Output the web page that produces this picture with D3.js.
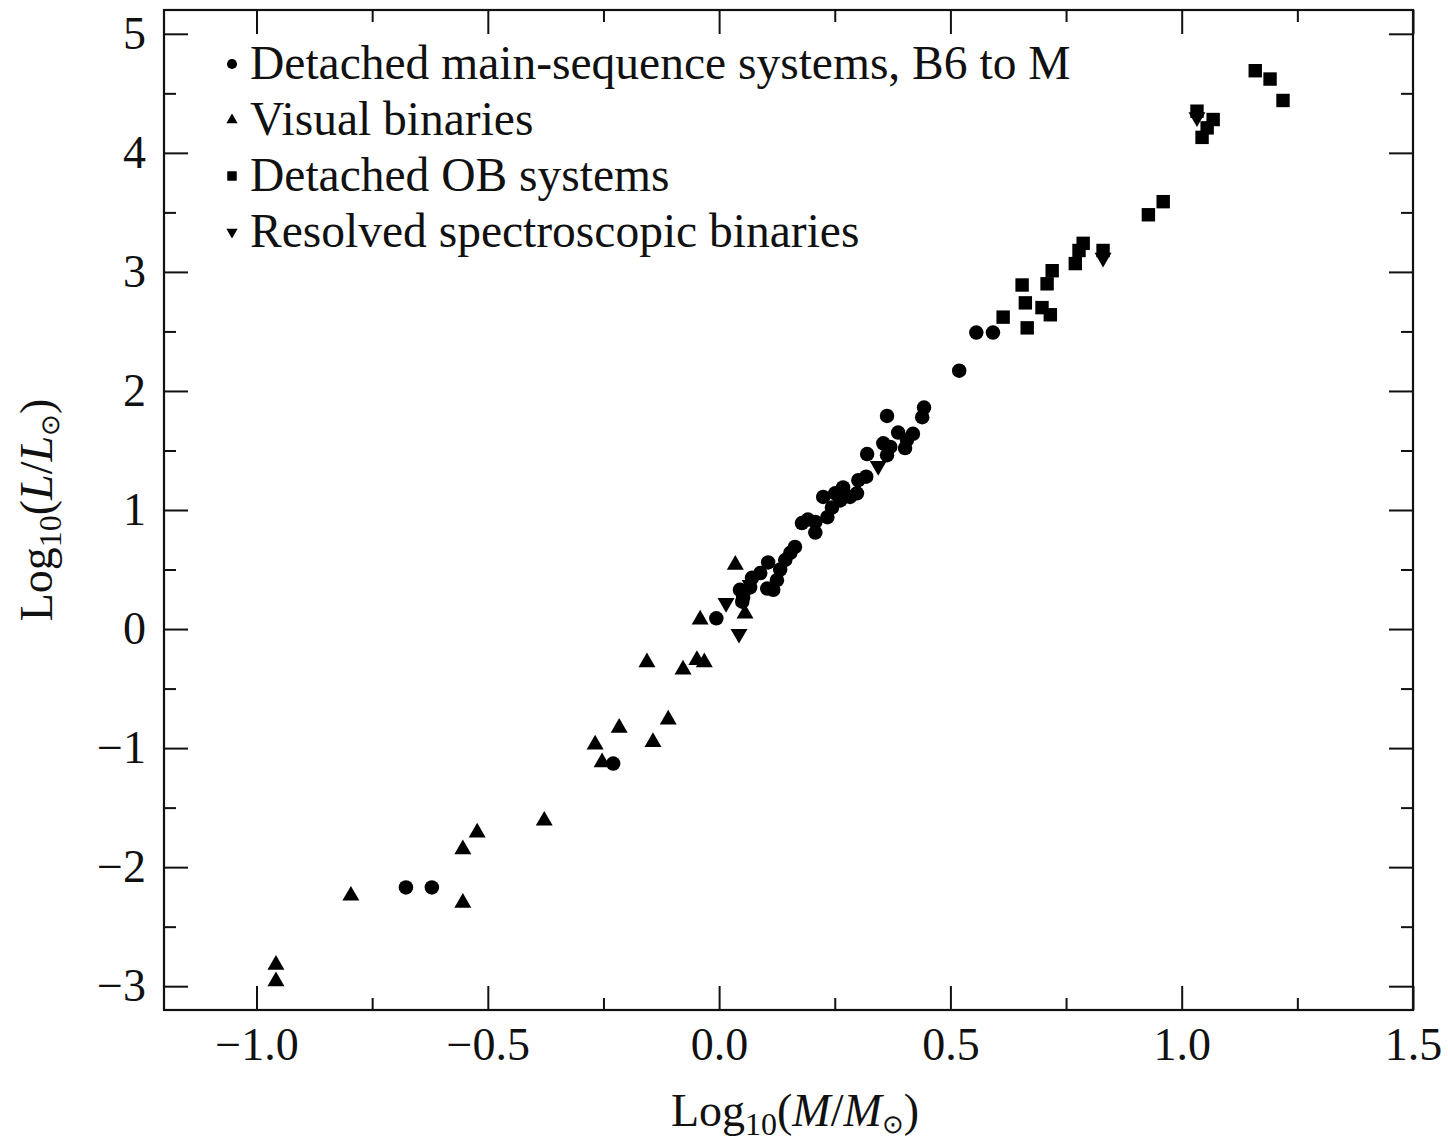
<!DOCTYPE html>
<html>
<head>
<meta charset="utf-8">
<script src="https://cdn.jsdelivr.net/npm/d3@7"></script>
<style>
  html, body { margin: 0; padding: 0; background: #fff; }
  svg { display: block; }
</style>
</head>
<body>
<div id="main"></div>
<script>
// Detached main-sequence systems, B6 to M  (log M, log L)
const msMass = [-0.677, -0.621, -0.229, -0.006, 0.050, 0.045, 0.052, 0.067, 0.089, 0.106, 0.104, 0.125,
  0.132, 0.143, 0.154, 0.164, 0.071, 0.117, 0.179, 0.192, 0.208, 0.208, 0.225, 0.234, 0.244, 0.251,
  0.262, 0.268, 0.283, 0.298, 0.301, 0.318, 0.320, 0.355, 0.363, 0.363, 0.370, 0.387, 0.402, 0.406,
  0.419, 0.439, 0.443, 0.519, 0.556, 0.592];
const msLum = [-2.17, -2.17, -1.13, 0.09, 0.23, 0.33, 0.27, 0.35, 0.47, 0.56, 0.34, 0.41,
  0.50, 0.58, 0.64, 0.69, 0.43, 0.33, 0.89, 0.92, 0.81, 0.90, 1.11, 0.94, 1.02, 1.14,
  1.08, 1.19, 1.11, 1.14, 1.25, 1.28, 1.47, 1.56, 1.46, 1.79, 1.53, 1.65, 1.52, 1.59,
  1.64, 1.78, 1.86, 2.17, 2.49, 2.49];

// Visual binaries
const vbMass = [-0.958, -0.958, -0.796, -0.554, -0.523, -0.554, -0.378, -0.268, -0.253, -0.216,
  -0.156, -0.143, -0.110, -0.078, -0.048, -0.032, -0.041, 0.056, 0.035];
const vbLum = [-2.82, -2.96, -2.24, -1.85, -1.71, -2.30, -1.61, -0.97, -1.12, -0.83,
  -0.28, -0.95, -0.76, -0.34, -0.26, -0.28, 0.08, 0.13, 0.54];

// Detached OB systems
const obMass = [0.614, 0.655, 0.662, 0.666, 0.698, 0.709, 0.716, 0.720, 0.770, 0.778, 0.787,
  0.830, 0.928, 0.960, 1.033, 1.044, 1.055, 1.068, 1.159, 1.191, 1.219];
const obLum = [2.62, 2.89, 2.74, 2.53, 2.70, 2.90, 2.64, 3.01, 3.07, 3.18, 3.24,
  3.18, 3.48, 3.59, 4.35, 4.13, 4.21, 4.28, 4.69, 4.62, 4.44];

// Resolved spectroscopic binaries
const sbMass = [0.015, 0.043, 0.067, 0.344, 0.830, 1.033];
const sbLum = [0.22, -0.04, 0.37, 1.37, 3.12, 4.30];

const legendLabels = ["Detached main-sequence systems, B6 to M", "Visual binaries",
  "Detached OB systems", "Resolved spectroscopic binaries"];

const xMajor = [-1.0, -0.5, 0.0, 0.5, 1.0, 1.5];
const xMinor = [-0.75, -0.25, 0.25, 0.75, 1.25];
const yMajor = [-3, -2, -1, 0, 1, 2, 3, 4, 5];
const yMinor = [-2.5, -1.5, -0.5, 0.5, 1.5, 2.5, 3.5, 4.5];

const width = 1448, height = 1144;
const margin = {top: 10, right: 35, bottom: 134, left: 164};
const font = "'Liberation Serif', 'Times New Roman', serif";

function main() {
  const svg = d3.create("svg")
      .attr("width", width)
      .attr("height", height)
      .attr("font-family", font);

  const x = d3.scaleLinear().domain([-1.2, 1.5]).range([margin.left, width - margin.right]);
  const y = d3.scaleLinear().domain([-3.2, 5.2]).range([height - margin.bottom, margin.top]);

  const majorLen = 24, minorLen = 12;

  function styleAxis(g) {
    g.attr("font-family", font);
    g.select(".domain").remove();
    g.selectAll(".tick line").attr("stroke", "#111").attr("stroke-width", 2);
    g.selectAll(".tick text").attr("font-size", 46).attr("fill", "#111");
  }

  // bottom
  svg.append("g")
      .attr("transform", `translate(0,${y.range()[0]})`)
      .call(d3.axisBottom(x).tickValues(xMajor).tickSize(-majorLen).tickPadding(14).tickFormat(d3.format(".1f")))
      .call(styleAxis)
      .call(g => g.selectAll(".tick text").attr("dy", "0.78em"));
  svg.append("g")
      .attr("transform", `translate(0,${y.range()[0]})`)
      .call(d3.axisBottom(x).tickValues(xMinor).tickSize(-minorLen).tickFormat(""))
      .call(styleAxis);
  // top
  svg.append("g")
      .attr("transform", `translate(0,${y.range()[1]})`)
      .call(d3.axisTop(x).tickValues(xMajor).tickSize(-majorLen).tickFormat(""))
      .call(styleAxis);
  svg.append("g")
      .attr("transform", `translate(0,${y.range()[1]})`)
      .call(d3.axisTop(x).tickValues(xMinor).tickSize(-minorLen).tickFormat(""))
      .call(styleAxis);
  // left
  svg.append("g")
      .attr("transform", `translate(${x.range()[0]},0)`)
      .call(d3.axisLeft(y).tickValues(yMajor).tickSize(-majorLen).tickPadding(18).tickFormat(d3.format("d")))
      .call(styleAxis);
  svg.append("g")
      .attr("transform", `translate(${x.range()[0]},0)`)
      .call(d3.axisLeft(y).tickValues(yMinor).tickSize(-minorLen).tickFormat(""))
      .call(styleAxis);
  // right
  svg.append("g")
      .attr("transform", `translate(${x.range()[1]},0)`)
      .call(d3.axisRight(y).tickValues(yMajor).tickSize(-majorLen).tickFormat(""))
      .call(styleAxis);
  svg.append("g")
      .attr("transform", `translate(${x.range()[1]},0)`)
      .call(d3.axisRight(y).tickValues(yMinor).tickSize(-minorLen).tickFormat(""))
      .call(styleAxis);

  // frame
  svg.append("rect")
      .attr("x", x.range()[0]).attr("y", y.range()[1])
      .attr("width", x.range()[1] - x.range()[0])
      .attr("height", y.range()[0] - y.range()[1])
      .attr("fill", "none").attr("stroke", "#111").attr("stroke-width", 2.2);

  // series
  const series = [
    {mass: msMass, lum: msLum, type: d3.symbolCircle, size: 165, rot: 0, legendSize: 80},
    {mass: vbMass, lum: vbLum, type: d3.symbolTriangle, size: 125, rot: 0, legendSize: 55},
    {mass: obMass, lum: obLum, type: d3.symbolSquare, size: 180, rot: 0, legendSize: 90},
    {mass: sbMass, lum: sbLum, type: d3.symbolTriangle, size: 125, rot: 180, legendSize: 55}
  ];

  const pts = svg.append("g").attr("fill", "#000");
  series.forEach(s => {
    const sym = d3.symbol().type(s.type).size(s.size);
    pts.selectAll(null)
      .data(d3.zip(s.mass, s.lum))
      .join("path")
        .attr("d", sym)
        .attr("transform", d => `translate(${x(d[0])},${y(d[1])}) rotate(${s.rot})`);
  });

  // legend
  const legend = svg.append("g").attr("transform", "translate(232,64)");
  series.forEach((s, i) => {
    const g = legend.append("g").attr("transform", `translate(0,${i * 56})`);
    g.append("path")
        .attr("d", d3.symbol().type(s.type).size(s.legendSize))
        .attr("transform", `rotate(${s.rot})`)
        .attr("fill", "#000");
    g.append("text")
        .attr("x", 18)
        .attr("y", 15)
        .attr("font-size", 47.5)
        .attr("fill", "#111")
        .text(legendLabels[i]);
  });

  // x title
  const xt = svg.append("text")
      .attr("x", 795)
      .attr("y", 1126)
      .attr("text-anchor", "middle")
      .attr("font-size", 46)
      .attr("fill", "#111");
  xt.append("tspan").text("Log");
  xt.append("tspan").attr("font-size", 32).attr("dy", 9).text("10");
  xt.append("tspan").attr("dy", -9).text("(");
  xt.append("tspan").attr("font-style", "italic").text("M");
  xt.append("tspan").text("/");
  xt.append("tspan").attr("font-style", "italic").text("M");
  xt.append("tspan").attr("font-size", 26).attr("dy", 7).text("⊙");
  xt.append("tspan").attr("dy", -7).text(")");

  // y title
  const yt = svg.append("text")
      .attr("transform", `translate(52,${y(1)}) rotate(-90)`)
      .attr("text-anchor", "middle")
      .attr("font-size", 46)
      .attr("fill", "#111");
  yt.append("tspan").text("Log");
  yt.append("tspan").attr("font-size", 32).attr("dy", 9).text("10");
  yt.append("tspan").attr("dy", -9).text("(");
  yt.append("tspan").attr("font-style", "italic").text("L");
  yt.append("tspan").text("/");
  yt.append("tspan").attr("font-style", "italic").text("L");
  yt.append("tspan").attr("font-size", 26).attr("dy", 7).text("⊙");
  yt.append("tspan").attr("dy", -7).text(")");

  return svg.node();
}

document.getElementById("main").appendChild(main());
</script>
</body>
</html>
